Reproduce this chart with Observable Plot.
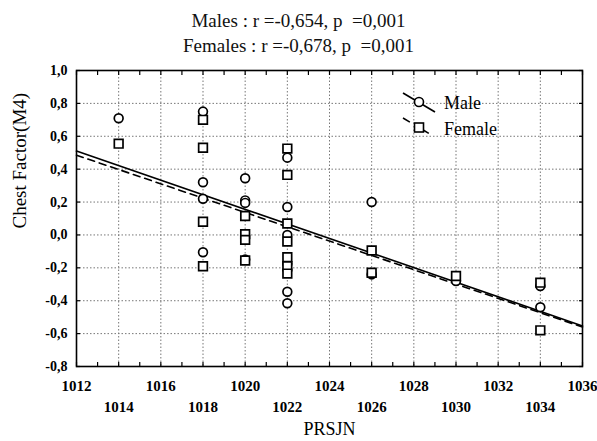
<!DOCTYPE html>
<html>
<head>
<meta charset="utf-8">
<script src="https://cdn.jsdelivr.net/npm/d3@7"></script>
<script src="https://cdn.jsdelivr.net/npm/@observablehq/plot@0.6"></script>
<style>
  html, body { margin: 0; padding: 0; background: white; }
  #wrap { position: relative; width: 597px; height: 441px; font-family: "Liberation Serif", "DejaVu Serif", serif; }
  #title { height: 60px; width: 597px; text-align: center; font-size: 19px; color: #111; }
  #title div { line-height: 25px; }
  #title .l1 { padding-top: 8px; }
  svg { display: block; }
  svg text { font-family: "Liberation Serif", "DejaVu Serif", serif; }
</style>
</head>
<body>
<div id="wrap">
  <div id="title"><div class="l1">Males : r =-0,654, p&nbsp;&nbsp;=0,001</div><div>Females : r =-0,678, p&nbsp;&nbsp;=0,001</div></div>
  <div id="chart"></div>
</div>
<script>
// ---- data ----
const maleX = [1014, 1018, 1018, 1018, 1018, 1020, 1020, 1020, 1020, 1022, 1022, 1022, 1022, 1022, 1022, 1026, 1026, 1030, 1034, 1034];
const maleY = [0.71, 0.75, 0.32, 0.22, -0.105, 0.345, 0.21, 0.195, -0.15, 0.47, 0.17, 0.0, -0.175, -0.345, -0.415, 0.20, -0.24, -0.28, -0.31, -0.44];
const femaleX = [1014, 1018, 1018, 1018, 1018, 1020, 1020, 1020, 1020, 1022, 1022, 1022, 1022, 1022, 1022, 1022, 1026, 1026, 1030, 1034, 1034];
const femaleY = [0.555, 0.70, 0.53, 0.08, -0.19, 0.115, 0.005, -0.03, -0.155, 0.525, 0.365, 0.07, -0.04, -0.135, -0.19, -0.235, -0.095, -0.23, -0.25, -0.29, -0.58];
// fitted regression lines (end points)
const fitX = [1012, 1036];
const maleFitY = [0.51, -0.553];
const femaleFitY = [0.485, -0.56];
// axes
const xDomain = [1012, 1036];
const yDomain = [-0.8, 1.0];
const xGridTicks = [1012, 1014, 1016, 1018, 1020, 1022, 1024, 1026, 1028, 1030, 1032, 1034, 1036];
const xMinorTicks = [1012, 1013, 1014, 1015, 1016, 1017, 1018, 1019, 1020, 1021, 1022, 1023, 1024, 1025, 1026, 1027, 1028, 1029, 1030, 1031, 1032, 1033, 1034, 1035, 1036];
const xLabelsRow1 = [1012, 1016, 1020, 1024, 1028, 1032, 1036];
const xLabelsRow2 = [1014, 1018, 1022, 1026, 1030, 1034];
const yTicks = [-0.8, -0.6, -0.4, -0.2, 0.0, 0.2, 0.4, 0.6, 0.8, 1.0];
const seriesNames = ["Male", "Female"];
const xTitle = "PRSJN";
const yTitle = "Chest Factor(M4)";

const males = maleX.map((x, i) => ({x, y: maleY[i]}));
const females = femaleX.map((x, i) => ({x, y: femaleY[i]}));
const maleFit = fitX.map((x, i) => ({x, y: maleFitY[i]}));
const femaleFit = fitX.map((x, i) => ({x, y: femaleFitY[i]}));

const fmtY = d => d.toFixed(1).replace("-0.0", "0.0").replace(".", ",");
const empty = () => "";
const serif = "Liberation Serif, DejaVu Serif, serif";

const chart = Plot.plot({
  width: 597,
  height: 381,
  marginTop: 10,
  marginLeft: 76,
  marginRight: 15,
  marginBottom: 75,
  style: {fontFamily: serif, background: "white", color: "black", overflow: "visible"},
  x: {domain: xDomain},
  y: {domain: yDomain},
  marks: [
    Plot.gridX(xGridTicks, {stroke: "#777", strokeOpacity: 1, strokeDasharray: "1.5,2"}),
    Plot.gridY(yTicks, {stroke: "#777", strokeOpacity: 1, strokeDasharray: "1.5,2"}),
    Plot.line(maleFit, {x: "x", y: "y", stroke: "black", strokeWidth: 1.6}),
    Plot.line(femaleFit, {x: "x", y: "y", stroke: "black", strokeWidth: 1.6, strokeDasharray: "7,5"}),
    Plot.dot(males, {x: "x", y: "y", symbol: "circle", r: 4.4, stroke: "black", strokeWidth: 1.7, fill: "white"}),
    Plot.dot(females, {x: "x", y: "y", symbol: "square", r: 4.9, stroke: "black", strokeWidth: 1.7, fill: "white"}),
    Plot.frame({stroke: "black", strokeWidth: 1.6}),
    Plot.axisX({anchor: "bottom", ticks: xMinorTicks, tickSize: -4, tickFormat: empty, label: null, strokeWidth: 1.2}),
    Plot.axisX({anchor: "top", ticks: xMinorTicks, tickSize: -4, tickFormat: empty, label: null, strokeWidth: 1.2}),
    Plot.axisY({anchor: "left", ticks: yTicks, tickSize: -4, tickFormat: empty, label: null, strokeWidth: 1.2}),
    Plot.axisY({anchor: "right", ticks: yTicks, tickSize: -4, tickFormat: empty, label: null, strokeWidth: 1.2}),
    Plot.axisX({anchor: "bottom", ticks: xLabelsRow1, tickSize: 0, tickPadding: 14, label: null, tickFormat: d => String(d), fontSize: 15, fontWeight: "bold", fontFamily: serif}),
    Plot.axisX({anchor: "bottom", ticks: xLabelsRow2, tickSize: 0, tickPadding: 35, label: null, tickFormat: d => String(d), fontSize: 15, fontWeight: "bold", fontFamily: serif}),
    Plot.axisY({anchor: "left", ticks: yTicks, tickSize: 0, tickPadding: 9, label: null, tickFormat: fmtY, fontSize: 14, fontWeight: "bold", fontFamily: serif}),
    Plot.text([xTitle], {frameAnchor: "bottom", dy: 63, fontSize: 18, lineAnchor: "middle", fill: "black", fontFamily: serif}),
    Plot.text([yTitle], {frameAnchor: "left", dx: -57, dy: 10, rotate: -90, fontSize: 19, lineAnchor: "middle", fill: "black", fontFamily: serif})
  ]
});
document.getElementById("chart").appendChild(chart);

// legend (inside the plot, top right), drawn in pixel space
const svg = d3.select(chart);
const lg = svg.append("g").attr("fill", "none").attr("stroke", "black").attr("stroke-width", 1.6);
// Male: solid line through a circle
lg.append("line").attr("x1", 403).attr("y1", 33).attr("x2", 435).attr("y2", 52);
lg.append("circle").attr("cx", 419).attr("cy", 42).attr("r", 4.5).attr("fill", "white");
// Female: dashed line through a square
lg.append("line").attr("x1", 403).attr("y1", 58).attr("x2", 435).attr("y2", 77).attr("stroke-dasharray", "8,14");
lg.append("rect").attr("x", 414.5).attr("y", 63).attr("width", 9).attr("height", 9).attr("fill", "white");
const lt = svg.append("g").attr("text-anchor", "start").attr("font-size", 18).attr("font-family", serif).attr("fill", "black");
lt.append("text").attr("x", 444).attr("y", 49).text(seriesNames[0]);
lt.append("text").attr("x", 444).attr("y", 75).text(seriesNames[1]);
</script>
</body>
</html>
